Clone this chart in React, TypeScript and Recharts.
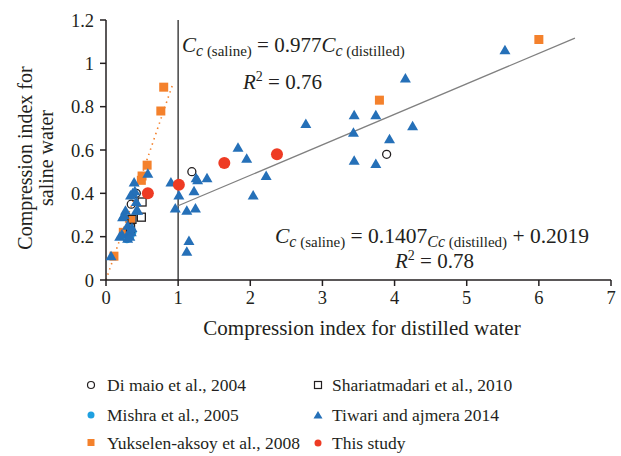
import { ReferenceLine, Scatter, ScatterChart, XAxis, YAxis } from "recharts";

const X_TICKS = [0, 1, 2, 3, 4, 5, 6, 7];
const Y_TICKS = [0, 0.2, 0.4, 0.6, 0.8, 1, 1.2];

// [Cc distilled, Cc saline]
const diMaio = [[0.35, 0.35], [0.42, 0.4], [1.19, 0.5], [3.89, 0.58]];
const mishra = [[0.29, 0.19], [0.33, 0.2], [0.36, 0.22]];
const yukselen = [
  [0.11, 0.11], [0.24, 0.22], [0.34, 0.28], [0.49, 0.46], [0.5, 0.48],
  [0.57, 0.53], [0.76, 0.78], [0.8, 0.89], [3.79, 0.83], [6.0, 1.11],
];
const shariatmadari = [[0.5, 0.36], [0.49, 0.29], [0.36, 0.28], [0.34, 0.24]];
const tiwari = [
  [0.07, 0.11], [0.19, 0.2], [0.22, 0.21], [0.25, 0.3], [0.27, 0.32], [0.23, 0.29],
  [0.3, 0.25], [0.32, 0.22], [0.35, 0.22], [0.3, 0.19], [0.33, 0.2], [0.36, 0.24],
  [0.37, 0.4], [0.39, 0.45], [0.4, 0.41], [0.34, 0.39], [0.42, 0.36], [0.42, 0.32],
  [0.44, 0.32], [0.58, 0.49], [0.9, 0.45], [0.96, 0.33], [1.01, 0.39], [1.12, 0.32],
  [1.24, 0.33], [1.22, 0.41], [1.25, 0.47], [1.27, 0.46], [1.4, 0.47], [1.15, 0.18],
  [1.12, 0.13], [1.83, 0.61], [1.95, 0.56], [2.22, 0.48], [2.04, 0.39], [2.77, 0.72],
  [3.44, 0.76], [3.74, 0.76], [3.43, 0.68], [3.93, 0.65], [4.25, 0.71], [4.15, 0.93],
  [5.53, 1.06], [3.44, 0.55], [3.74, 0.535],
];
const thisStudy = [[0.58, 0.4], [1.01, 0.44], [1.64, 0.54], [2.37, 0.58]];

// fitted lines
const DISTILLED_SLOPE = 0.977;
const DOTTED_END = 0.93;
const FIT_SLOPE = 0.1407;
const FIT_INTERCEPT = 0.2019;
const FIT_RANGE = [1, 6.5];

const BLUE = "#2570B8";
const LIGHT_BLUE = "#1FA0E0";
const ORANGE = "#F4812C";
const RED = "#EE3B24";
const INK = "#231F20";
const FONT = '"Times New Roman", Times, "Liberation Serif", "DejaVu Serif", serif';

const toPts = (arr: number[][]) => arr.map(([x, y]) => ({ x, y }));

const OpenCircle = (p: any) => (
  <circle cx={p.cx} cy={p.cy} r={4} fill="none" stroke={INK} strokeWidth={1.3} />
);
const Dot = (color: string, r: number) => (p: any) => (
  <circle cx={p.cx} cy={p.cy} r={r} fill={color} />
);
const Square = (p: any) => (
  <rect x={p.cx - 4.5} y={p.cy - 4.5} width={9} height={9} fill={ORANGE} />
);
const OpenSquare = (p: any) => (
  <rect x={p.cx - 4} y={p.cy - 4} width={8} height={8} fill="none" stroke={INK} strokeWidth={1.3} />
);
const Triangle = (p: any) => (
  <path d={`M${p.cx},${p.cy - 5.5} L${p.cx + 5.5},${p.cy + 4} L${p.cx - 5.5},${p.cy + 4} Z`} fill={BLUE} />
);

function Overlay() {
  const it = { fontStyle: "italic" as const };
  return (
    <svg
      width={621}
      height={456}
      style={{ position: "absolute", left: 0, top: 0, pointerEvents: "none", fontFamily: FONT }}
      fill={INK}
    >
      <text transform="translate(32,158) rotate(-90)" textAnchor="middle" fontSize={20}>
        Compression index for
      </text>
      <text transform="translate(53,158) rotate(-90)" textAnchor="middle" fontSize={20}>
        saline water
      </text>
      <text x={362} y={335} textAnchor="middle" fontSize={21}>
        Compression index for distilled water
      </text>

      <text x={182} y={52} fontSize={21}>
        <tspan style={it}>C</tspan>
        <tspan style={it} fontSize={16} dy={4}>c</tspan>
        <tspan fontSize={15}> (saline)</tspan>
        <tspan dy={-4}> = 0.977</tspan>
        <tspan style={it}>C</tspan>
        <tspan style={it} fontSize={16} dy={4}>c</tspan>
        <tspan fontSize={15}> (distilled)</tspan>
      </text>
      <text x={243} y={89} fontSize={21}>
        <tspan style={it}>R</tspan>
        <tspan fontSize={14} dy={-8}>2</tspan>
        <tspan dy={8}> = 0.76</tspan>
      </text>

      <text x={275} y={243} fontSize={21.5}>
        <tspan style={it}>C</tspan>
        <tspan style={it} fontSize={16} dy={4}>c</tspan>
        <tspan fontSize={15}> (saline)</tspan>
        <tspan dy={-4}> = 0.1407</tspan>
        <tspan style={it} fontSize={16} dy={4}>Cc</tspan>
        <tspan fontSize={15}> (distilled)</tspan>
        <tspan dy={-4}> + 0.2019</tspan>
      </text>
      <text x={395} y={268} fontSize={21}>
        <tspan style={it}>R</tspan>
        <tspan fontSize={14} dy={-8}>2</tspan>
        <tspan dy={8}> = 0.78</tspan>
      </text>

      {/* legend */}
      <g fontSize={17.5}>
        <circle cx={91} cy={385} r={3.5} fill="none" stroke={INK} strokeWidth={1.2} />
        <text x={107} y={391}>Di maio et al., 2004</text>
        <circle cx={91} cy={415} r={3.5} fill={LIGHT_BLUE} />
        <text x={107} y={421}>Mishra et al., 2005</text>
        <rect x={87.5} y={439} width={7} height={7} fill={ORANGE} />
        <text x={107} y={449}>Yukselen-aksoy et al., 2008</text>
        <rect x={314.5} y={381.5} width={7} height={7} fill="none" stroke={INK} strokeWidth={1.2} />
        <text x={332} y={391}>Shariatmadari et al., 2010</text>
        <path d="M318,411 L322.5,418.5 L313.5,418.5 Z" fill={BLUE} />
        <text x={332} y={421}>Tiwari and ajmera 2014</text>
        <circle cx={318} cy={443} r={3.5} fill={RED} />
        <text x={332} y={449}>This study</text>
      </g>
    </svg>
  );
}

export default function App() {
  const tick = { fontSize: 18.5, fill: INK, style: { fontFamily: FONT } };
  return (
    <div
      style={{
        position: "absolute",
        left: 0,
        top: 0,
        width: 621,
        height: 456,
        background: "#fff",
        fontFamily: FONT,
      }}
    >
      <ScatterChart width={621} height={456} margin={{ top: 20, right: 10, bottom: 146, left: 46 }}>
        <XAxis
          type="number"
          dataKey="x"
          domain={[0, 7]}
          ticks={X_TICKS}
          tick={tick}
          stroke={INK}
          strokeWidth={1.5}
          tickSize={6}
          tickMargin={5}
          height={30}
          allowDataOverflow
        />
        <YAxis
          type="number"
          dataKey="y"
          domain={[0, 1.2]}
          ticks={Y_TICKS}
          tick={tick}
          stroke={INK}
          strokeWidth={1.5}
          tickSize={6}
          tickMargin={6}
          width={60}
          allowDataOverflow
        />
        <ReferenceLine x={1} stroke="#444" strokeWidth={1.5} />
        <Scatter data={toPts(diMaio)} shape={OpenCircle} isAnimationActive={false} />
        <Scatter data={toPts(mishra)} shape={Dot(LIGHT_BLUE, 4.5)} isAnimationActive={false} />
        <Scatter data={toPts(yukselen)} shape={Square} isAnimationActive={false} />
        <Scatter data={toPts(shariatmadari)} shape={OpenSquare} isAnimationActive={false} />
        <Scatter data={toPts(tiwari)} shape={Triangle} isAnimationActive={false} />
        <Scatter data={toPts(thisStudy)} shape={Dot(RED, 6)} isAnimationActive={false} />
        <ReferenceLine
          segment={[
            { x: 0, y: 0 },
            { x: DOTTED_END, y: DISTILLED_SLOPE * DOTTED_END },
          ]}
          stroke={ORANGE}
          strokeWidth={1.6}
          strokeDasharray="1.5 4"
        />
        <ReferenceLine
          segment={[
            { x: FIT_RANGE[0], y: FIT_SLOPE * FIT_RANGE[0] + FIT_INTERCEPT },
            { x: FIT_RANGE[1], y: FIT_SLOPE * FIT_RANGE[1] + FIT_INTERCEPT },
          ]}
          stroke="#808080"
          strokeWidth={1.3}
        />
      </ScatterChart>
      <Overlay />
    </div>
  );
}
